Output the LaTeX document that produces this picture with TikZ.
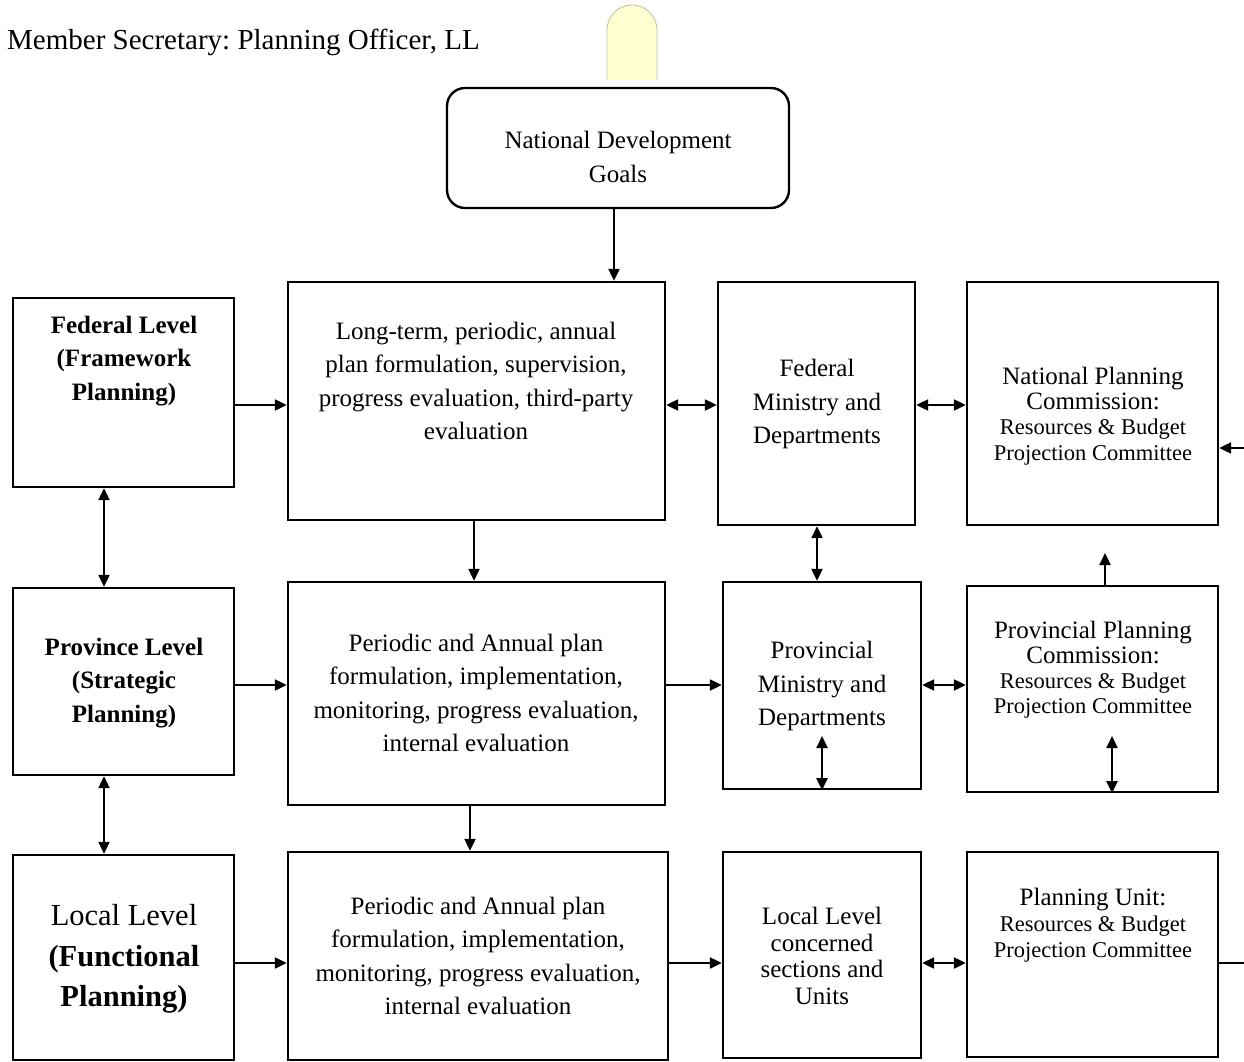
\documentclass[tikz,border=0pt]{standalone}
\usepackage{fontspec}
\setmainfont{Liberation Serif}
\usetikzlibrary{arrows.meta}
\frenchspacing
\tikzset{
  x=1pt, y=-1pt,
  box/.style={draw=black, line width=2.4pt, fill=white, inner sep=0pt},
  rbox/.style={box, rounded corners=18pt},
  txt/.style={align=center, inner sep=0pt, font=\fontsize{25}{33.5}\selectfont},
  tight/.style={align=center, inner sep=0pt, font=\fontsize{25}{26.5}\selectfont},
  arr/.style={line width=2.2pt, -{Triangle[length=12pt,width=11pt]}},
  darr/.style={line width=2.2pt, {Triangle[length=12pt,width=11pt]}-{Triangle[length=12pt,width=11pt]}},
  plain/.style={line width=2.2pt}
}
\begin{document}
\begin{tikzpicture}
\useasboundingbox (0,0) rectangle (1244,1062);
\fill[white] (0,0) rectangle (1244,1062);
% title
\node[anchor=base west, inner sep=0pt, font=\fontsize{29}{34}\selectfont] (title) at (7,50) {Member Secretary: Planning Officer, LL};
% yellow tab
\path[fill={rgb,255:red,255;green,255;blue,208}, draw={rgb,255:red,190;green,190;blue,170}, line width=0.8pt]
  (607,80) -- (607,30) arc[start angle=180, end angle=360, radius=25] -- (657,80);
% boxes
\node[rbox, minimum width=342, minimum height=120] (ndg) at (618,148) {};
\node[txt] (ndgT) at (618,157) {National Development\\Goals};

\node[box, minimum width=221, minimum height=189] (fed) at (123.5,392.5) {};
\node[txt, font=\fontsize{25}{33.5}\selectfont\bfseries] (fedT) at (124,361) {Federal Level\\(Framework\\Planning)};

\node[box, minimum width=377, minimum height=238] (lt) at (476.5,401) {};
\node[txt] (ltT) at (476,381) {Long-term, periodic, annual\\plan formulation, supervision,\\progress evaluation, third-party\\evaluation};

\node[box, minimum width=197, minimum height=243] (fm) at (816.5,403.5) {};
\node[txt] (fmT) at (817,404) {Federal\\Ministry and\\Departments};

\node[box, minimum width=251, minimum height=243] (npc) at (1092.5,403.5) {};
\node[align=center, inner sep=0pt, font=\fontsize{25}{25.3}\selectfont] (npcT) at (1093,416) {National Planning\\Commission:\\{\fontsize{22.5}{25.3}\selectfont Resources \& Budget}\\{\fontsize{22.5}{25.3}\selectfont Projection Committee}};

\node[box, minimum width=221, minimum height=187] (prl) at (123.5,681.5) {};
\node[txt, font=\fontsize{25}{33.5}\selectfont\bfseries] (prlT) at (124,683) {Province Level\\(Strategic\\Planning)};

\node[box, minimum width=377, minimum height=223] (p1) at (476.5,693.5) {};
\node[txt] (p1T) at (476,693) {Periodic and Annual plan\\formulation, implementation,\\monitoring, progress evaluation,\\internal evaluation};

\node[box, minimum width=198, minimum height=207] (pm) at (822,685.5) {};
\node[txt] (pmT) at (822,686) {Provincial\\Ministry and\\Departments};

\node[box, minimum width=251, minimum height=206] (pp) at (1092.5,689) {};
\node[align=center, inner sep=0pt, font=\fontsize{25}{25}\selectfont] (ppT) at (1093,670) {Provincial Planning\\Commission:\\{\fontsize{22.5}{25}\selectfont Resources \& Budget}\\{\fontsize{22.5}{25}\selectfont Projection Committee}};

\node[box, minimum width=221, minimum height=205] (ll) at (123.5,957.5) {};
\node[align=center, inner sep=0pt, font=\fontsize{30.5}{40.5}\selectfont] (llT) at (124,959) {Local Level\\\textbf{(Functional}\\\textbf{Planning)}};

\node[box, minimum width=380, minimum height=208] (p2) at (478,956) {};
\node[txt] (p2T) at (478,956) {Periodic and Annual plan\\formulation, implementation,\\monitoring, progress evaluation,\\internal evaluation};

\node[box, minimum width=198, minimum height=206] (lc) at (822,955) {};
\node[tight] (lcT) at (822,956) {Local Level\\concerned\\sections and\\Units};

\node[box, minimum width=251, minimum height=205] (pu) at (1092.5,954.5) {};
\node[align=center, inner sep=0pt, font=\fontsize{25}{26}\selectfont] (puT) at (1093,925) {Planning Unit:\\{\fontsize{22.5}{26}\selectfont Resources \& Budget}\\{\fontsize{22.5}{26}\selectfont Projection Committee}};

% free-end coordinates
\coordinate (rin) at (1244,448);
\coordinate (rout) at (1244,963);
\coordinate (ppup) at (1105,553);
\coordinate (pmin) at (822,736);
\coordinate (ppin) at (1112,736);

% connectors
\draw[arr] (ndg.south -| 614,0) -- (lt.north -| 614,0);
\draw[arr] (fed.east |- 0,405) -- (lt.west |- 0,405);
\draw[darr] (lt.east |- 0,405) -- (fm.west |- 0,405);
\draw[darr] (fm.east |- 0,405) -- (npc.west |- 0,405);
\draw[arr] (rin) -- (npc.east |- rin);
\draw[darr] (fed.south -| 104,0) -- (prl.north -| 104,0);
\draw[arr] (lt.south -| 474,0) -- (p1.north -| 474,0);
\draw[darr] (fm.south -| 817,0) -- (pm.north -| 817,0);
\draw[arr] (pp.north -| ppup) -- (ppup);

\draw[arr] (prl.east |- 0,685) -- (p1.west |- 0,685);
\draw[arr] (p1.east |- 0,685) -- (pm.west |- 0,685);
\draw[darr] (pm.east |- 0,685) -- (pp.west |- 0,685);
\draw[darr] (pmin) -- (pm.south -| pmin);
\draw[darr] (ppin) -- (pp.south -| ppin);

\draw[darr] (prl.south -| 104,0) -- (ll.north -| 104,0);
\draw[arr] (p1.south -| 470,0) -- (p2.north -| 470,0);

\draw[arr] (ll.east |- 0,963) -- (p2.west |- 0,963);
\draw[arr] (p2.east |- 0,963) -- (lc.west |- 0,963);
\draw[darr] (lc.east |- 0,963) -- (pu.west |- 0,963);
\draw[plain] (pu.east |- rout) -- (rout);
\end{tikzpicture}
\end{document}
